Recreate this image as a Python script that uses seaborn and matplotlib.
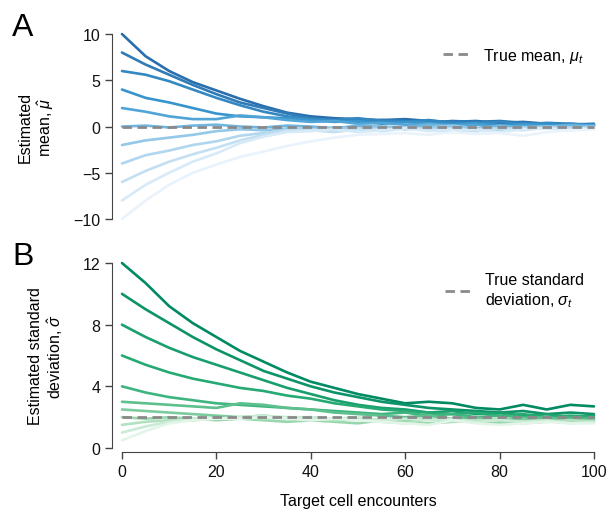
import numpy as np
import pandas as pd
import matplotlib
matplotlib.use("Agg")
import matplotlib.pyplot as plt
from matplotlib.lines import Line2D
import seaborn as sns

# encounters at which the estimates were read off
encounters = np.arange(0, 101, 5)

# panel A: estimated mean for each starting guess
mean_start = [10, 8, 6, 4, 2, 0, -2, -4, -6, -8, -10]
mean_est = [
    [10.0, 7.6, 6.0, 4.8, 3.9, 3.0, 2.2, 1.5, 1.1, 0.9, 0.8, 0.7, 0.8, 0.6, 0.5, 0.6, 0.4, 0.5, 0.3, 0.2, 0.3],
    [8.0, 6.7, 5.6, 4.5, 3.5, 2.6, 2.0, 1.4, 0.9, 0.6, 0.5, 0.7, 0.6, 0.4, 0.6, 0.5, 0.6, 0.4, 0.2, 0.3, 0.1],
    [6.0, 5.6, 4.9, 4.0, 3.1, 2.3, 1.6, 1.1, 0.8, 0.7, 0.9, 0.6, 0.5, 0.7, 0.4, 0.3, 0.5, 0.2, 0.4, 0.3, 0.2],
    [4.0, 3.1, 2.6, 2.0, 1.4, 1.1, 1.0, 0.9, 0.7, 0.5, 0.6, 0.3, 0.5, 0.4, 0.2, 0.4, 0.1, 0.3, 0.2, 0.0, 0.2],
    [2.0, 1.6, 1.1, 0.8, 0.8, 1.2, 1.0, 0.7, 0.5, 0.6, 0.3, 0.4, 0.2, 0.3, 0.1, 0.2, -0.1, 0.1, 0.0, 0.2, 0.1],
    [0.0, 0.1, -0.1, 0.1, 0.2, 0.0, -0.1, 0.1, 0.0, -0.2, 0.1, 0.0, -0.1, 0.2, 0.0, -0.2, 0.1, -0.1, 0.0, 0.1, 0.0],
    [-2.0, -1.5, -1.2, -0.9, -0.5, -0.3, -0.4, -0.2, -0.3, -0.1, -0.2, 0.0, -0.3, -0.1, 0.1, -0.2, -0.4, -0.1, 0.0, -0.2, 0.0],
    [-4.0, -3.1, -2.6, -2.0, -1.6, -1.0, -0.7, -0.4, -0.3, -0.5, -0.2, -0.4, -0.1, -0.3, -0.2, -0.5, -0.3, -0.1, -0.2, -0.1, -0.2],
    [-6.0, -4.8, -3.8, -3.0, -2.3, -1.5, -0.9, -0.4, -0.4, -0.6, -0.3, -0.5, -0.2, -0.4, -0.6, -0.3, -0.2, -0.4, -0.1, -0.3, -0.1],
    [-8.0, -6.3, -5.0, -3.8, -2.9, -1.8, -1.1, -0.6, -0.5, -0.3, -0.6, -0.4, -0.2, -0.5, -0.3, -0.4, -0.6, -0.3, -0.2, -0.4, -0.2],
    [-10.0, -8.0, -6.3, -5.0, -4.1, -3.3, -2.7, -2.1, -1.6, -1.2, -0.9, -0.8, -0.7, -0.9, -0.6, -0.8, -0.7, -1.0, -0.6, -0.4, -0.3],
]
true_mean = 0

# panel B: estimated standard deviation for each starting guess
sd_start = [12, 10, 8, 6, 4, 3, 2.5, 2, 1.5, 1, 0.5]
sd_est = [
    [12.0, 10.7, 9.2, 8.1, 7.2, 6.3, 5.6, 4.9, 4.3, 3.9, 3.5, 3.2, 2.9, 3.0, 2.9, 2.6, 2.5, 2.8, 2.5, 2.8, 2.7],
    [10.0, 9.0, 8.1, 7.2, 6.4, 5.7, 5.0, 4.5, 4.0, 3.6, 3.3, 3.0, 2.8, 2.6, 2.5, 2.4, 2.3, 2.4, 2.2, 2.3, 2.2],
    [8.0, 7.2, 6.5, 5.9, 5.4, 4.9, 4.4, 3.9, 3.5, 3.1, 2.8, 2.6, 2.5, 2.3, 2.4, 2.2, 2.3, 2.1, 2.2, 2.0, 2.1],
    [6.0, 5.4, 4.9, 4.5, 4.2, 3.9, 3.7, 3.4, 3.2, 2.9, 2.7, 2.5, 2.4, 2.3, 2.2, 2.3, 2.1, 2.2, 2.0, 2.1, 2.0],
    [4.0, 3.6, 3.3, 3.1, 2.9, 2.8, 2.7, 2.6, 2.5, 2.4, 2.3, 2.2, 2.3, 2.1, 2.2, 2.0, 2.1, 2.0, 1.9, 2.0, 1.9],
    [3.0, 2.9, 2.8, 2.7, 2.6, 2.9, 2.8, 2.6, 2.5, 2.3, 2.2, 2.1, 2.0, 2.1, 1.9, 2.0, 1.8, 1.9, 2.0, 1.8, 1.9],
    [2.5, 2.4, 2.3, 2.2, 2.1, 2.0, 2.1, 1.9, 2.0, 1.8, 1.9, 1.8, 1.7, 1.9, 1.8, 1.7, 1.8, 1.9, 1.7, 1.8, 1.8],
    [2.0, 1.9, 2.0, 1.9, 1.8, 1.9, 1.8, 1.7, 1.8, 1.7, 1.6, 1.8, 1.7, 1.6, 1.7, 1.8, 1.6, 1.7, 1.8, 1.7, 1.7],
    [1.5, 1.7, 1.8, 1.8, 1.9, 2.0, 1.9, 2.0, 1.9, 1.8, 1.9, 1.7, 1.6, 1.9, 1.7, 1.8, 1.9, 1.6, 1.7, 1.8, 1.7],
    [1.0, 1.4, 1.7, 1.9, 1.9, 2.0, 2.1, 2.0, 2.0, 1.9, 2.0, 1.8, 1.9, 1.8, 1.9, 1.7, 1.8, 1.7, 1.8, 1.6, 1.7],
    [0.5, 1.1, 1.6, 1.8, 1.9, 1.9, 2.0, 1.9, 1.8, 1.9, 1.8, 1.7, 1.6, 1.5, 1.8, 1.6, 1.5, 1.6, 1.7, 1.6, 1.6],
]
true_sd = 2


def to_long(starts, estimates):
    rows = []
    for s, vals in zip(starts, estimates):
        for x, v in zip(encounters, vals):
            rows.append({"encounter": x, "estimate": v, "start": str(s)})
    return pd.DataFrame(rows)


df_mean = to_long(mean_start, mean_est)
df_sd = to_long(sd_start, sd_est)

sns.set_style("ticks")
plt.rcParams["font.family"] = ["Liberation Sans", "DejaVu Sans"]
plt.rcParams["mathtext.fontset"] = "custom"
plt.rcParams["mathtext.rm"] = "Liberation Sans"
plt.rcParams["mathtext.it"] = "Liberation Sans:italic"
plt.rcParams["text.color"] = "black"
plt.rcParams["axes.labelcolor"] = "black"
plt.rcParams["axes.edgecolor"] = "#444444"
plt.rcParams["xtick.color"] = "#444444"
plt.rcParams["ytick.color"] = "#444444"
plt.rcParams["xtick.labelcolor"] = "#111111"
plt.rcParams["ytick.labelcolor"] = "#111111"

blues = sns.blend_palette(["#2a6fad", "#3a98d0", "#a9d4ee", "#eaf3fb"], len(mean_start))
greens = sns.blend_palette(["#008a63", "#2aad75", "#8fd3a6", "#e3f5e8"], len(sd_start))

fig = plt.figure(figsize=(6.09, 5.10), dpi=100)
ax1 = fig.add_axes([0.2003, 0.5686, 0.7750, 0.3627])
ax2 = fig.add_axes([0.2003, 0.1196, 0.7750, 0.3627])

dash = (0, (3.4, 2.0))

# panel A
sns.lineplot(data=df_mean, x="encounter", y="estimate", hue="start",
             hue_order=[str(s) for s in mean_start], palette=blues,
             estimator=None, lw=1.9, legend=False, ax=ax1)
ax1.axhline(true_mean, color="#8a8a8a", lw=2.0, ls=dash, zorder=3)
ax1.set_xlim(0, 100)
ax1.set_ylim(-10, 10)
ax1.set_yticks([-10, -5, 0, 5, 10])
ax1.set_yticklabels(["\u221210", "\u22125", "0", "5", "10"])
ax1.set_xticks([])
ax1.set_xlabel("")
ax1.spines[["top", "right", "bottom"]].set_visible(False)
ax1.spines["left"].set_position(("outward", 7))
ax1.set_ylabel("Estimated\nmean, $\\hat{\\mu}$", fontsize=11.5, multialignment="center")
ax1.yaxis.set_label_coords(-0.14, 0.5)
ax1.legend(handles=[Line2D([], [], color="#8a8a8a", lw=2.0, ls=dash)],
           labels=["True mean, $\\mu_t$"], loc="upper left",
           bbox_to_anchor=(0.68, 0.935), frameon=False, fontsize=11.5,
           handlelength=1.6, handletextpad=0.9, borderpad=0, borderaxespad=0)

# panel B
sns.lineplot(data=df_sd, x="encounter", y="estimate", hue="start",
             hue_order=[str(s) for s in sd_start], palette=greens,
             estimator=None, lw=1.9, legend=False, ax=ax2)
ax2.axhline(true_sd, color="#8a8a8a", lw=2.0, ls=dash, zorder=3)
ax2.set_xlim(0, 100)
ax2.set_ylim(0, 12)
ax2.set_yticks([0, 4, 8, 12])
ax2.set_xticks([0, 20, 40, 60, 80, 100])
ax2.spines[["top", "right"]].set_visible(False)
ax2.spines["left"].set_position(("outward", 7))
ax2.spines["bottom"].set_position(("outward", 3))
ax2.set_ylabel("Estimated standard\ndeviation, $\\hat{\\sigma}$", fontsize=11.5,
               multialignment="center")
ax2.yaxis.set_label_coords(-0.12, 0.5)
ax2.set_xlabel("Target cell encounters", fontsize=11.5, labelpad=10)
ax2.legend(handles=[Line2D([], [], color="#8a8a8a", lw=2.0, ls=dash)],
           labels=["True standard\ndeviation, $\\sigma_t$"], loc="upper left",
           bbox_to_anchor=(0.684, 0.95), frameon=False, fontsize=11.5,
           handlelength=1.6, handletextpad=0.9, borderpad=0, borderaxespad=0)

for ax in (ax1, ax2):
    ax.tick_params(axis="both", labelsize=11.5, length=5, width=1)
    for line in ax.lines:
        line.set_clip_on(False)

fig.text(0.02, 0.929, "A", fontsize=23, color="black")
fig.text(0.02, 0.480, "B", fontsize=23, color="black")

fig.savefig("out.png", dpi=100)
